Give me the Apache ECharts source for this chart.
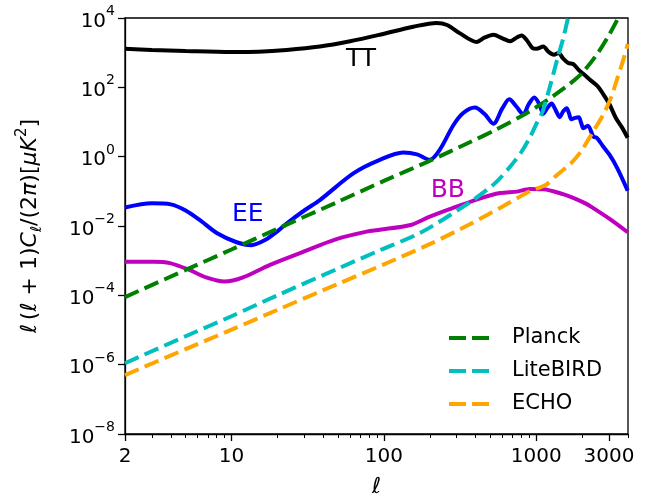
<!DOCTYPE html>
<html>
<head>
<meta charset="utf-8">
<script src="https://cdn.jsdelivr.net/npm/echarts@6/dist/echarts.min.js"></script>
<style>html,body{margin:0;padding:0;background:#fff;}#c{width:648px;height:502px;}</style>
</head>
<body>
<div id="c"></div>
<script>
// ---- data ----
const ttData = [[2,1290],[3,1200],[5,1120],[10,1050],[15,1070],[23,1200],[38,1510],[60,2140],[94,3300],[156,5600],[222,7200],[260,6300],[316,3600],[406,2040],[460,2750],[523,3300],[600,2600],[673,2140],[750,2800],[802,3150],[870,2240],[945,1350],[1003,1290],[1111,1510],[1200,1070],[1307,870],[1400,980],[1500,680],[1622,500],[1745,470],[1900,316],[2070,230],[2250,166],[2530,107],[2865,48],[3030,32],[3330,13],[3650,7],[3980,3.5]];
const eeData = [[2,0.034],[3,0.045],[4,0.042],[5,0.028],[6.3,0.014],[8,0.0063],[10.8,0.0034],[13.5,0.0028],[16.7,0.004],[20,0.007],[23,0.0117],[30,0.028],[38,0.056],[63,0.33],[94,0.81],[134,1.32],[165,1.17],[200,0.81],[233,1.6],[285,7.9],[330,17.8],[396,26],[460,16.6],[523,8.9],[600,25],[665,45],[740,28],[822,16.6],[890,32],[970,51],[1050,32],[1111,17.4],[1180,25],[1260,34],[1340,22],[1425,13.8],[1500,20],[1585,25],[1640,17.8],[1700,12],[1800,13.2],[1900,13.8],[1970,9.5],[2040,6.6],[2180,7.8],[2370,3.8],[2500,3.5],[2740,2.0],[3030,1.12],[3400,0.47],[3980,0.105]];
const bbData = [[2,0.00093],[3.1,0.00093],[3.94,0.00085],[5.3,0.00054],[6.8,0.00033],[9,0.00025],[11.9,0.00033],[17.9,0.00076],[29.5,0.0018],[48.9,0.0042],[81,0.0072],[94,0.0078],[150,0.0107],[200,0.0186],[300,0.036],[430,0.063],[580,0.089],[748,0.098],[908,0.117],[1111,0.115],[1500,0.083],[1780,0.063],[2100,0.045],[2313,0.035],[3030,0.016],[3980,0.0066]];
const planckData = [[2,8.9e-5],[5,5.4e-4],[10,2.1e-3],[20,8.3e-3],[50,0.05],[100,0.2],[200,0.76],[366,2.6],[550,6.2],[800,14.8],[1003,27],[1290,56],[1660,126],[1985,250],[2500,890],[3000,3200],[3450,10000]];
const litebirdData = [[2,1.1e-6],[5,6.6e-6],[10,2.5e-5],[20,1.0e-4],[50,5.9e-4],[94,2.0e-3],[175,6.5e-3],[366,0.048],[474,0.11],[550,0.19],[673,0.51],[802,1.41],[908,3.6],[1003,8.9],[1100,20],[1226,100],[1380,700],[1500,2500],[1615,10000]];
const echoData = [[2,5.0e-7],[5,2.8e-6],[10,1.02e-5],[20,3.8e-5],[50,2.14e-4],[100,7.8e-4],[200,3.0e-3],[366,0.0112],[610,0.038],[908,0.1],[1167,0.158],[1350,0.28],[1700,0.66],[2000,1.58],[2330,4.8],[2740,15.8],[3080,48],[3400,178],[3700,560],[3980,1780]];
const annotations = [{name:'TT', value:[70.7,620], color:'#000000'},{name:'EE', value:[12.8,0.021], color:'#0000ff'},{name:'BB', value:[263,0.103], color:'#bf00bf'}];
const legendNames = ['Planck','LiteBIRD','ECHO'];
const xMajorTicks = [2,10,100,1000,3000];
const xMinorTicks = [3,4,5,6,7,8,9,20,30,40,50,60,70,80,90,200,300,400,500,600,700,800,900,2000,4000];
const yTicks = [1e-8,1e-6,1e-4,1e-2,1,1e2,1e4];

const FONT = 'DejaVu Sans';
const chart = echarts.init(document.getElementById('c'), null, {renderer:'canvas'});
function supLabel(v){
  const e = Math.round(Math.log10(v));
  return '{b|10}{s|' + (e < 0 ? '\u2212' + (-e) : e) + '}';
}
const dash = [15, 6.5];
function lineSeries(name, data, color, dashed){
  return {
    name, type:'line', data, xAxisIndex:0, yAxisIndex:0,
    showSymbol:false, symbol:'none', smooth:0.3, clip:true,
    lineStyle:{color, width: 4, type: dashed ? dash : 'solid', cap:'butt'},
    itemStyle:{color},
    emphasis:{disabled:true}, animation:false, z: dashed ? 3 : 2
  };
}
const option = {
  animation:false,
  backgroundColor:'#ffffff',
  textStyle:{fontFamily:FONT},
  grid:{left:125, right:20, top:18, bottom:68, show:true, borderColor:'#000', borderWidth:1.3, containLabel:false, outerBoundsMode:'none'},
  legend:{
    data:legendNames, orient:'vertical', left:449, top:327,
    icon:'path://M0,0h17v4h-17z M23,0h17v4h-17z', symbolKeepAspect:false,
    itemWidth:40, itemHeight:4, itemGap:11, padding:0,
    textStyle:{fontSize:21, color:'#000', fontFamily:FONT, lineHeight:22, padding:[0,0,0,18]},
    selectedMode:false
  },
  xAxis:[{
    type:'log', logBase:10, min:2, max:4000, position:'bottom',
    axisLine:{show:true, lineStyle:{color:'#000', width:1.3}},
    axisTick:{show:true, length:7, lineStyle:{color:'#000', width:1.3}, customValues:xMajorTicks},
    axisLabel:{show:true, customValues:xMajorTicks, fontSize:20, color:'#000', fontFamily:FONT, margin:13, formatter:v=>String(Math.round(v))},
    splitLine:{show:false}, minorTick:{show:false},
    name:'{i|\u2113}', nameLocation:'middle', nameGap:42,
    nameTextStyle:{rich:{i:{fontSize:22, fontStyle:'italic', color:'#000', fontFamily:FONT}}}
  },{
    type:'log', logBase:10, min:2, max:4000, position:'bottom', gridIndex:0,
    axisLine:{show:false},
    axisTick:{show:true, length:4, lineStyle:{color:'#000', width:1}, customValues:xMinorTicks},
    axisLabel:{show:false}, splitLine:{show:false}
  }],
  yAxis:[{
    type:'log', logBase:10, min:1e-8, max:1e4,
    axisLine:{show:true, lineStyle:{color:'#000', width:1.3}},
    axisTick:{show:true, length:7, lineStyle:{color:'#000', width:1.3}, customValues:yTicks},
    axisLabel:{show:true, customValues:yTicks, margin:10, formatter:supLabel,
      rich:{b:{fontSize:20, color:'#000', fontFamily:FONT, verticalAlign:'bottom', lineHeight:27},
            s:{fontSize:14, color:'#000', fontFamily:FONT, verticalAlign:'top', lineHeight:14}}},
    splitLine:{show:false},
    name:'{i|\u2113} {r|(}{i|\u2113}{r| + 1)}{i|C}{sub|\u2113}{r|/(2}{i|\u03c0}{r|)[}{i|\u03bcK}{sup|2}{r|]}',
    nameLocation:'middle', nameRotate:90, nameGap:80,
    nameTextStyle:{rich:{
      r:{fontSize:22, color:'#000', fontFamily:FONT, verticalAlign:'middle', lineHeight:30},
      i:{fontSize:22, color:'#000', fontFamily:FONT, fontStyle:'italic', verticalAlign:'middle', lineHeight:30},
      sub:{fontSize:15, color:'#000', fontFamily:FONT, fontStyle:'italic', verticalAlign:'bottom', lineHeight:15},
      sup:{fontSize:15, color:'#000', fontFamily:FONT, verticalAlign:'top', lineHeight:15}
    }}
  }],
  series:[
    lineSeries('TT', ttData, '#000000', false),
    lineSeries('EE', eeData, '#0000ff', false),
    lineSeries('BB', bbData, '#bf00bf', false),
    lineSeries('Planck', planckData, '#008000', true),
    lineSeries('LiteBIRD', litebirdData, '#00bfbf', true),
    lineSeries('ECHO', echoData, '#ffa500', true),
    {
      name:'labels', type:'scatter', symbolSize:0, silent:true, z:10,
      itemStyle:{opacity:1},
      data: annotations.map(a=>({name:a.name, value:a.value, label:{color:a.color}})),
      label:{show:true, position:'inside', formatter:'{b}', fontSize:25, fontFamily:FONT, textBorderWidth:0, textShadowBlur:0, opacity:1},
      emphasis:{disabled:true}
    }
  ]
};
chart.setOption(option);
</script>
</body>
</html>
